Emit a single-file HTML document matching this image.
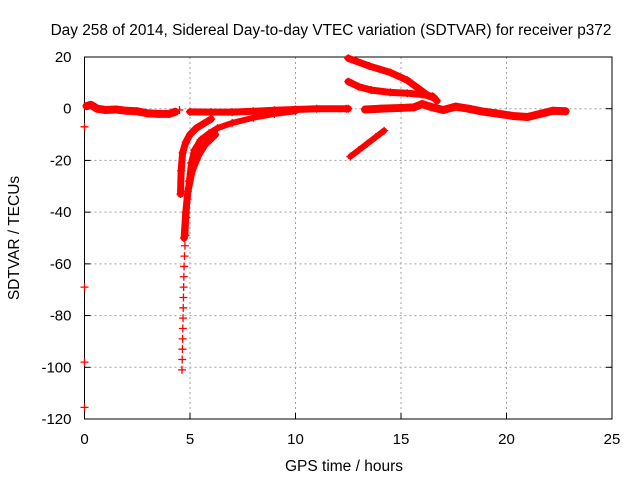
<!DOCTYPE html>
<html><head><meta charset="utf-8"><style>
body{margin:0;background:#fff}
svg{display:block;font-family:"Liberation Sans",sans-serif}
</style></head><body>
<svg width="640" height="480" viewBox="0 0 640 480">
<text x="331" y="35" text-anchor="middle" font-size="15.4" fill="#000">Day 258 of 2014, Sidereal Day-to-day VTEC variation (SDTVAR) for receiver p372</text>
<g id="grid"></g>
<g id="axes"></g>
<g id="series"></g>
<text x="344" y="471" text-anchor="middle" font-size="15.5" fill="#000">GPS time / hours</text>
<text transform="translate(19,238) rotate(-90)" text-anchor="middle" font-size="15.5" fill="#000">SDTVAR / TECUs</text>
</svg>
<script>
const xTicks=[0,5,10,15,20,25];
const yTicks=[20,0,-20,-40,-60,-80,-100,-120];
const trackA=[[0.1,1],[0.3,1.5],[0.6,0],[1,-0.5],[1.5,-0.3],[2,-0.8],[2.5,-1],[3,-1.8],[3.5,-2],[4,-2],[4.3,-1.2]];
const trackB=[[5,-1.2],[6,-1.3],[7,-1.3],[8,-1],[9,-0.6],[10,-0.3],[11,0],[12.5,0]];
const trackC1sparse=[[4.62,-101],[4.63,-97],[4.64,-93],[4.65,-89],[4.66,-85],[4.67,-81],[4.68,-77],[4.69,-73],[4.7,-69],[4.71,-65],[4.72,-61],[4.74,-57],[4.76,-53],[4.78,-49]];
const trackC1=[[4.78,-49],[4.82,-42],[4.88,-35],[4.95,-28],[5.05,-21],[5.2,-16],[5.5,-12],[5.9,-9.5],[6.3,-7.5],[7,-5.5],[8,-3.5],[9,-2],[10,-1]];
const trackC2=[[4.55,-33],[4.58,-24],[4.65,-17],[4.8,-13],[5,-10],[5.3,-7.5],[5.6,-6],[6,-4]];
const trackC3=[[4.72,-50],[4.8,-40],[4.9,-32],[5.1,-24],[5.4,-18],[5.7,-14],[6.2,-10]];
const trackD=[[12.5,19.5],[13.5,16.5],[14.5,14],[15.3,11],[15.8,8],[16.3,5],[16.6,4]];
const trackE=[[12.5,10.5],[13,8.5],[13.6,7.2],[14.5,6.3],[15.3,6],[16,5.5],[16.5,4.8],[16.7,3]];
const trackF=[[13.3,-0.3],[14,0],[15,0.3],[15.6,0.5],[16,1.8],[16.5,0.5],[17,-0.5],[17.6,0.8],[18.2,0],[18.8,-1],[19.5,-1.8],[20.3,-2.8],[21,-3.2],[21.6,-2],[22.2,-0.8],[22.8,-1]];
const trackG=[[12.6,-18.5],[13,-16],[13.4,-13.5],[13.8,-11],[14.2,-8.5]];
const isolated=[[0,-7],[0,-69],[0,-98],[0,-115.5],[4.5,-0.5],[12.4,0]];
const X0=84.5,X1=612,Y0=419,Y1=57;
const xs=t=>X0+(t-0)/25*(X1-X0);
const ys=v=>Y0-(v+120)/140*(Y0-Y1);
const NS="http://www.w3.org/2000/svg";
function mk(tag,attrs,parent){const e=document.createElementNS(NS,tag);for(const k in attrs)e.setAttribute(k,attrs[k]);parent.appendChild(e);return e;}
const grid=document.getElementById('grid'),axes=document.getElementById('axes'),ser=document.getElementById('series');
xTicks.forEach(t=>{
  if(t>0&&t<25){const l=mk('line',{x1:xs(t),x2:xs(t),y1:Y1,y2:Y0,stroke:'#a0a0a0','stroke-dasharray':'2,3'},grid);
  
  }
  const tk=mk('line',{x1:xs(t),x2:xs(t),y1:Y0,y2:Y0-6,stroke:'#000'},axes);
  
  
  const tx=mk('text',{x:xs(t),y:Y0+25,'text-anchor':'middle','font-size':'15'},axes);
  tx.textContent=t;
  
  
});
yTicks.forEach(v=>{
  if(v>-120&&v<20){const l=mk('line',{x1:X0,x2:X1,y1:ys(v),y2:ys(v),stroke:'#a0a0a0','stroke-dasharray':'2,3'},grid);
  
  }
  const tk=mk('line',{x1:X0,x2:X0+6,y1:ys(v),y2:ys(v),stroke:'#000'},axes);
  
  
  const tk2=mk('line',{x1:X1,x2:X1-6,y1:ys(v),y2:ys(v),stroke:'#000'},axes);
  
  
  const tx=mk('text',{x:X0-13,y:ys(v)+5,'text-anchor':'end','font-size':'15'},axes);
  tx.textContent=v;
  
  
});
const fr=mk('rect',{x:X0,y:Y1,width:X1-X0,height:Y0-Y1,fill:'none',stroke:'#000'},axes);


function plus(t,v,g){const x=xs(t),y=ys(v);mk('path',{d:`M${x-4},${y}H${x+4}M${x},${y-4}V${y+4}`,stroke:'#f00','stroke-width':1.3},g);}
function track(arr,name,w){
  const g=mk('g',{},ser);
  
  
  if(w>0) mk('polyline',{points:arr.map(p=>xs(p[0])+','+ys(p[1])).join(' '),fill:'none',stroke:'#f00','stroke-width':w,'stroke-linejoin':'round','stroke-linecap':'round'},g);
  arr.forEach(p=>plus(p[0],p[1],g));
}
track(trackA,'track-a',8);
track(trackB,'track-b',7);
track(trackC1sparse,'track-c1-sparse',0);
track(trackC1,'track-c1',6);
track(trackC2,'track-c2',7);
track(trackC3,'track-c3',7);
track(trackD,'track-d',7);
track(trackE,'track-e',7);
track(trackF,'track-f',8);
track(trackG,'track-g',6);
const gi=mk('g',{},ser);


isolated.forEach(p=>plus(p[0],p[1],gi));
</script>
</body></html>
